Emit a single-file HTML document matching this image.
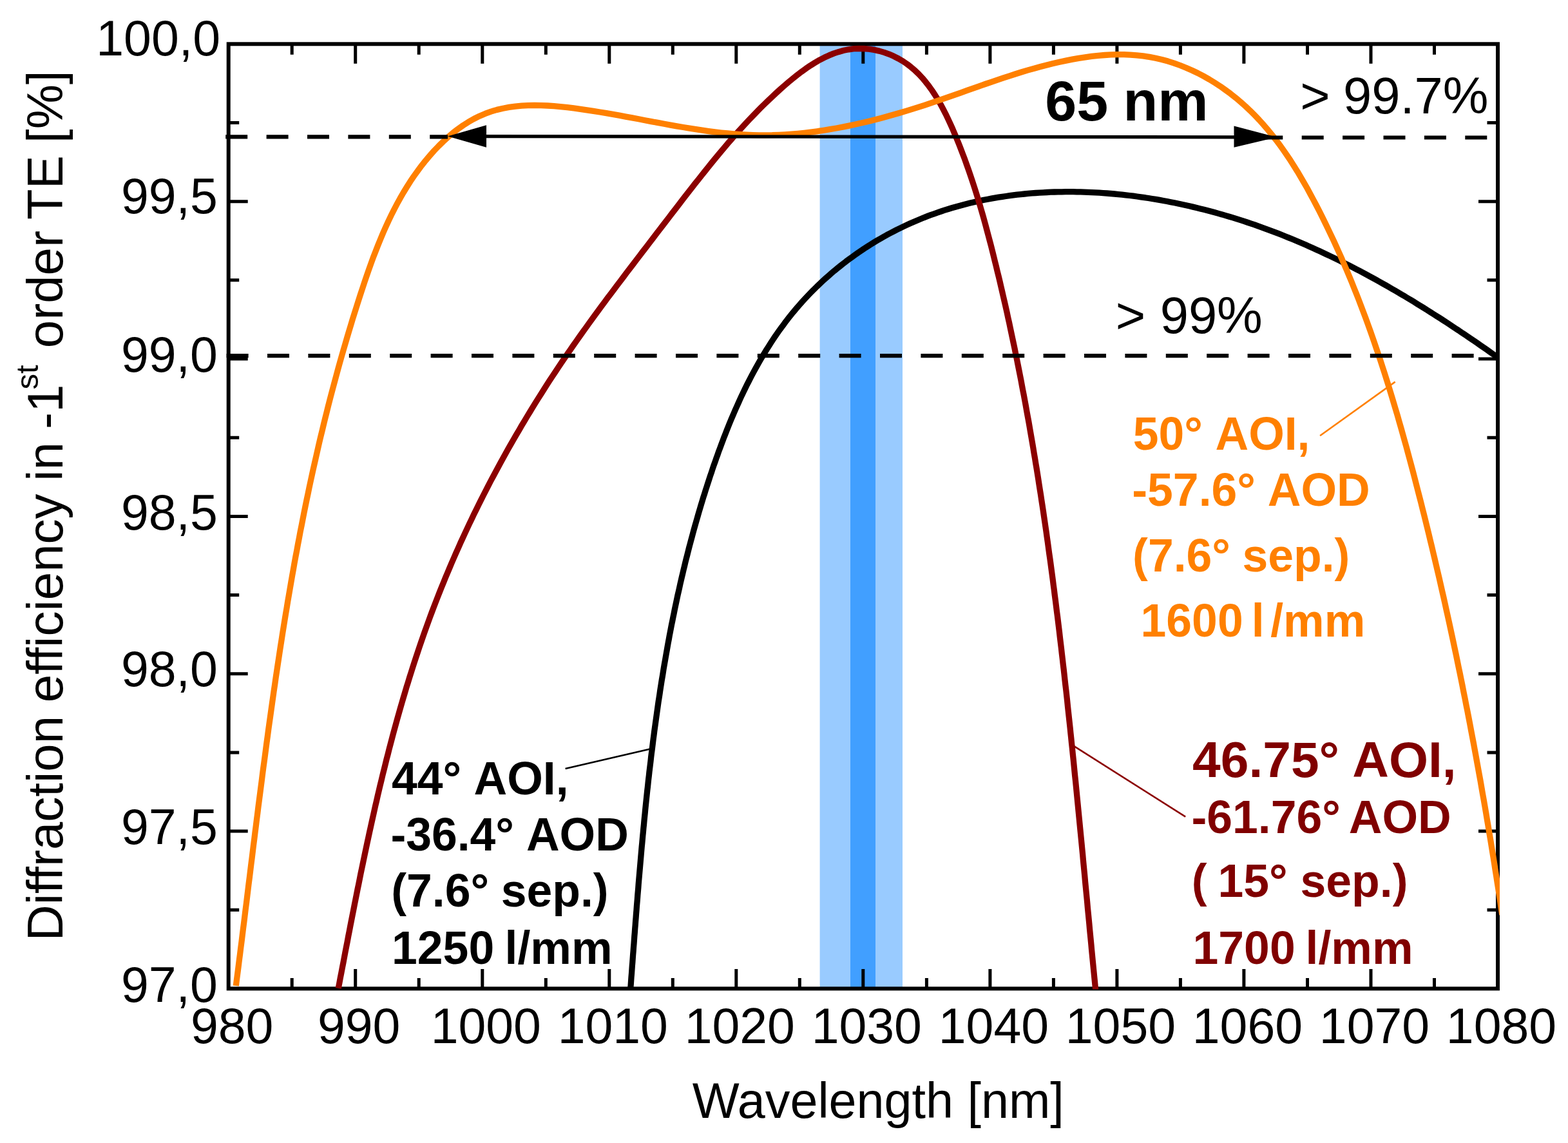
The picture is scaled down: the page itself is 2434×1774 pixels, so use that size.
<!DOCTYPE html>
<html><head><meta charset="utf-8"><title>Diffraction efficiency</title>
<style>html,body{margin:0;padding:0;background:#fff;}body{width:2434px;height:1774px;overflow:hidden;position:relative;}svg{display:block;position:absolute;left:0;top:0;}</style>
</head><body>
<svg xmlns="http://www.w3.org/2000/svg" width="2434" height="1774" viewBox="0 0 2434 1774">
<defs><clipPath id="pc"><rect x="351.5" y="65" width="1976.5" height="1470.5"/></clipPath></defs>
<rect x="1272.6" y="68.3" width="128.4" height="1466.1" fill="#99CBFF"/>
<rect x="1320" y="68.3" width="39" height="1466.1" fill="#419FFF"/>
<rect x="354.7" y="68.3" width="1970.3" height="1466.1" fill="none" stroke="#000" stroke-width="6"/>
<path d="M453.2,1534.4v-16.5M453.2,68.3v16.5M551.7,1534.4v-30.5M551.7,68.3v30.5M650.2,1534.4v-16.5M650.2,68.3v16.5M748.8,1534.4v-30.5M748.8,68.3v30.5M847.3,1534.4v-16.5M847.3,68.3v16.5M945.8,1534.4v-30.5M945.8,68.3v30.5M1044.3,1534.4v-16.5M1044.3,68.3v16.5M1142.8,1534.4v-30.5M1142.8,68.3v30.5M1241.3,1534.4v-16.5M1241.3,68.3v16.5M1339.8,1534.4v-30.5M1339.8,68.3v30.5M1438.4,1534.4v-16.5M1438.4,68.3v16.5M1536.9,1534.4v-30.5M1536.9,68.3v30.5M1635.4,1534.4v-16.5M1635.4,68.3v16.5M1733.9,1534.4v-30.5M1733.9,68.3v30.5M1832.4,1534.4v-16.5M1832.4,68.3v16.5M1930.9,1534.4v-30.5M1930.9,68.3v30.5M2029.5,1534.4v-16.5M2029.5,68.3v16.5M2128.0,1534.4v-30.5M2128.0,68.3v30.5M2226.5,1534.4v-16.5M2226.5,68.3v16.5M354.7,1412.2h16.5M2325.0,1412.2h-16.5M354.7,1290.1h30M2325.0,1290.1h-30M354.7,1167.9h16.5M2325.0,1167.9h-16.5M354.7,1045.7h30M2325.0,1045.7h-30M354.7,923.5h16.5M2325.0,923.5h-16.5M354.7,801.4h30M2325.0,801.4h-30M354.7,679.2h16.5M2325.0,679.2h-16.5M354.7,557.0h30M2325.0,557.0h-30M354.7,434.8h16.5M2325.0,434.8h-16.5M354.7,312.7h30M2325.0,312.7h-30M354.7,190.5h16.5M2325.0,190.5h-16.5" stroke="#000" stroke-width="5" fill="none"/>
<g clip-path="url(#pc)" fill="none" stroke-width="9.3" stroke-linejoin="round">
<path d="M978.3,1539.9 L978.7,1534.1 L979.2,1528.3 L979.6,1522.6 L980.0,1516.8 L980.5,1511.0 L980.9,1505.2 L981.3,1499.4 L981.8,1493.6 L982.2,1487.8 L982.6,1482.1 L983.1,1476.3 L983.5,1470.5 L984.0,1464.7 L984.4,1458.9 L984.8,1453.1 L985.3,1447.3 L985.7,1441.5 L986.2,1435.7 L986.6,1429.9 L987.1,1424.2 L987.5,1418.4 L988.0,1412.6 L988.4,1406.8 L988.9,1401.0 L989.4,1395.2 L989.8,1389.4 L990.3,1383.6 L990.8,1377.8 L991.2,1372.0 L991.7,1366.2 L992.2,1360.4 L992.7,1354.6 L993.2,1348.9 L993.7,1343.1 L994.2,1337.3 L994.7,1331.5 L995.2,1325.7 L995.7,1319.9 L996.2,1314.1 L996.8,1308.3 L997.3,1302.5 L997.8,1296.8 L998.4,1291.0 L998.9,1285.2 L999.5,1279.4 L1000.0,1273.6 L1000.6,1267.8 L1001.2,1262.1 L1001.7,1256.3 L1002.3,1250.5 L1002.9,1244.7 L1003.5,1238.9 L1004.1,1233.2 L1004.7,1227.4 L1005.4,1221.6 L1006.0,1215.8 L1006.6,1210.1 L1007.3,1204.3 L1007.9,1198.5 L1008.6,1192.8 L1009.3,1187.0 L1010.0,1181.2 L1010.6,1175.5 L1011.3,1169.7 L1012.1,1163.9 L1012.8,1158.2 L1013.5,1152.4 L1014.2,1146.7 L1015.0,1140.9 L1015.7,1135.1 L1016.5,1129.4 L1017.3,1123.6 L1018.1,1117.9 L1018.9,1112.2 L1019.7,1106.4 L1020.5,1100.7 L1021.3,1094.9 L1022.1,1089.2 L1023.0,1083.5 L1023.9,1077.7 L1024.7,1072.0 L1025.6,1066.3 L1026.5,1060.5 L1027.4,1054.8 L1028.4,1049.1 L1029.3,1043.4 L1030.2,1037.6 L1031.2,1031.9 L1032.2,1026.2 L1033.2,1020.5 L1034.2,1014.8 L1035.2,1009.1 L1036.2,1003.4 L1037.2,997.7 L1038.3,992.0 L1039.3,986.3 L1040.4,980.6 L1041.5,974.9 L1042.6,969.2 L1043.8,963.5 L1044.9,957.9 L1046.1,952.2 L1047.2,946.5 L1048.4,940.8 L1049.6,935.2 L1050.8,929.5 L1052.0,923.8 L1053.3,918.2 L1054.6,912.5 L1055.8,906.9 L1057.1,901.2 L1058.4,895.6 L1059.8,889.9 L1061.1,884.3 L1062.5,878.6 L1063.8,873.0 L1065.2,867.4 L1066.7,861.7 L1068.1,856.1 L1069.5,850.5 L1071.0,844.9 L1072.5,839.3 L1074.0,833.7 L1075.5,828.1 L1077.0,822.5 L1078.6,816.9 L1080.2,811.3 L1081.8,805.7 L1083.4,800.1 L1085.0,794.5 L1086.7,788.9 L1088.3,783.4 L1090.0,777.8 L1091.7,772.2 L1093.5,766.7 L1095.2,761.1 L1097.0,755.6 L1098.8,750.0 L1100.6,744.5 L1102.4,738.9 L1104.3,733.4 L1106.1,727.9 L1108.0,722.3 L1110.0,716.8 L1111.9,711.3 L1113.9,705.8 L1115.8,700.3 L1117.9,694.8 L1119.9,689.3 L1122.0,683.8 L1124.0,678.4 L1126.2,672.9 L1128.3,667.5 L1130.5,662.1 L1132.7,656.6 L1134.9,651.2 L1137.2,645.9 L1139.5,640.5 L1141.8,635.1 L1144.2,629.8 L1146.6,624.5 L1149.0,619.2 L1151.4,613.9 L1153.9,608.7 L1156.5,603.4 L1159.0,598.2 L1161.7,593.0 L1164.3,587.9 L1167.0,582.7 L1169.7,577.6 L1172.5,572.5 L1175.3,567.4 L1178.1,562.4 L1181.0,557.4 L1184.0,552.4 L1187.0,547.5 L1190.0,542.5 L1193.1,537.7 L1196.2,532.8 L1199.3,528.0 L1202.5,523.2 L1205.8,518.4 L1209.1,513.7 L1212.5,509.0 L1215.9,504.4 L1219.3,499.8 L1222.8,495.2 L1226.4,490.7 L1230.0,486.2 L1233.7,481.7 L1237.4,477.3 L1241.2,473.0 L1245.0,468.6 L1248.9,464.4 L1252.9,460.1 L1256.9,455.9 L1260.9,451.8 L1265.0,447.7 L1269.2,443.6 L1273.4,439.6 L1277.6,435.7 L1281.9,431.8 L1286.3,427.9 L1290.7,424.1 L1295.1,420.3 L1299.6,416.6 L1304.1,413.0 L1308.7,409.4 L1313.3,405.8 L1318.0,402.3 L1322.7,398.9 L1327.4,395.5 L1332.2,392.1 L1337.0,388.9 L1341.8,385.6 L1346.7,382.5 L1351.6,379.4 L1356.6,376.3 L1361.5,373.3 L1366.5,370.4 L1371.6,367.5 L1376.6,364.7 L1381.7,362.0 L1386.8,359.3 L1392.0,356.6 L1397.2,354.1 L1402.4,351.6 L1407.6,349.1 L1412.8,346.7 L1418.1,344.4 L1423.4,342.2 L1428.7,340.0 L1434.0,337.8 L1439.4,335.7 L1444.7,333.7 L1450.1,331.8 L1455.5,329.9 L1461.0,328.0 L1466.4,326.2 L1471.9,324.5 L1477.4,322.8 L1482.9,321.2 L1488.4,319.7 L1493.9,318.2 L1499.5,316.7 L1505.1,315.3 L1510.7,314.0 L1516.3,312.7 L1521.9,311.5 L1527.5,310.3 L1533.2,309.2 L1538.8,308.2 L1544.5,307.2 L1550.2,306.2 L1555.9,305.3 L1561.6,304.5 L1567.3,303.7 L1573.0,302.9 L1578.8,302.2 L1584.5,301.6 L1590.3,301.0 L1596.0,300.4 L1601.8,299.9 L1607.6,299.5 L1613.4,299.1 L1619.2,298.8 L1625.0,298.5 L1630.8,298.2 L1636.6,298.0 L1642.4,297.9 L1648.3,297.8 L1654.1,297.7 L1659.9,297.7 L1665.8,297.7 L1671.6,297.8 L1677.5,297.9 L1683.3,298.1 L1689.2,298.3 L1695.0,298.6 L1700.8,298.9 L1706.7,299.2 L1712.5,299.6 L1718.4,300.0 L1724.2,300.5 L1730.1,301.0 L1735.9,301.6 L1741.8,302.2 L1747.6,302.8 L1753.5,303.5 L1759.3,304.2 L1765.1,305.0 L1770.9,305.8 L1776.8,306.7 L1782.6,307.5 L1788.4,308.5 L1794.2,309.4 L1800.0,310.4 L1805.8,311.5 L1811.6,312.5 L1817.3,313.7 L1823.1,314.8 L1828.8,316.0 L1834.6,317.2 L1840.3,318.5 L1846.1,319.8 L1851.8,321.1 L1857.5,322.5 L1863.2,323.9 L1868.8,325.3 L1874.5,326.8 L1880.2,328.3 L1885.8,329.8 L1891.4,331.4 L1897.0,332.9 L1902.6,334.6 L1908.2,336.2 L1913.8,337.9 L1919.3,339.7 L1924.9,341.4 L1930.4,343.2 L1935.9,345.0 L1941.4,346.9 L1946.9,348.7 L1952.3,350.7 L1957.8,352.6 L1963.2,354.6 L1968.7,356.6 L1974.1,358.6 L1979.5,360.6 L1984.9,362.7 L1990.2,364.8 L1995.6,367.0 L2000.9,369.1 L2006.3,371.3 L2011.6,373.5 L2016.9,375.8 L2022.2,378.0 L2027.5,380.3 L2032.8,382.7 L2038.0,385.0 L2043.3,387.4 L2048.5,389.8 L2053.7,392.2 L2058.9,394.7 L2064.1,397.1 L2069.3,399.6 L2074.5,402.1 L2079.7,404.7 L2084.8,407.3 L2090.0,409.9 L2095.1,412.5 L2100.3,415.1 L2105.4,417.8 L2110.5,420.4 L2115.6,423.1 L2120.7,425.9 L2125.7,428.6 L2130.8,431.4 L2135.9,434.2 L2140.9,437.0 L2146.0,439.8 L2151.0,442.6 L2156.0,445.5 L2161.0,448.4 L2166.0,451.3 L2171.0,454.2 L2176.0,457.2 L2181.0,460.1 L2185.9,463.1 L2190.9,466.1 L2195.9,469.1 L2200.8,472.2 L2205.8,475.2 L2210.7,478.3 L2215.6,481.4 L2220.5,484.5 L2225.4,487.6 L2230.3,490.7 L2235.2,493.8 L2240.1,497.0 L2245.0,500.2 L2249.9,503.4 L2254.7,506.6 L2259.6,509.8 L2264.5,513.0 L2269.3,516.3 L2274.2,519.5 L2279.0,522.8 L2283.8,526.1 L2288.7,529.4 L2293.5,532.7 L2298.3,536.1 L2303.1,539.4 L2307.9,542.7 L2312.7,546.1 L2317.5,549.5 L2322.3,552.9 L2327.1,556.2 L2331.9,559.7" stroke="#000000"/>
<path d="M525.2,1533.8 L526.8,1525.8 L528.3,1517.7 L529.9,1509.7 L531.4,1501.6 L533.0,1493.6 L534.5,1485.5 L536.0,1477.5 L537.6,1469.4 L539.2,1461.3 L540.7,1453.2 L542.3,1445.2 L543.8,1437.1 L545.4,1429.0 L547.0,1420.9 L548.6,1412.8 L550.2,1404.7 L551.8,1396.7 L553.4,1388.6 L555.0,1380.5 L556.7,1372.4 L558.3,1364.3 L559.9,1356.2 L561.6,1348.1 L563.3,1340.0 L565.0,1331.9 L566.7,1323.8 L568.4,1315.8 L570.1,1307.7 L571.9,1299.6 L573.6,1291.5 L575.4,1283.4 L577.2,1275.3 L579.0,1267.3 L580.8,1259.2 L582.6,1251.1 L584.5,1243.1 L586.3,1235.0 L588.2,1227.0 L590.1,1218.9 L592.1,1210.9 L594.0,1202.8 L596.0,1194.8 L598.0,1186.8 L600.0,1178.7 L602.1,1170.7 L604.1,1162.7 L606.2,1154.7 L608.3,1146.7 L610.4,1138.7 L612.6,1130.8 L614.8,1122.8 L617.0,1114.8 L619.2,1106.9 L621.5,1098.9 L623.8,1091.0 L626.1,1083.1 L628.5,1075.1 L630.8,1067.2 L633.3,1059.3 L635.7,1051.4 L638.2,1043.6 L640.7,1035.7 L643.2,1027.8 L645.8,1020.0 L648.4,1012.2 L651.0,1004.4 L653.7,996.5 L656.4,988.8 L659.1,981.0 L661.9,973.2 L664.7,965.5 L667.5,957.7 L670.4,950.0 L673.3,942.3 L676.3,934.6 L679.3,926.9 L682.3,919.2 L685.4,911.6 L688.5,903.9 L691.6,896.3 L694.8,888.7 L698.0,881.1 L701.2,873.5 L704.5,866.0 L707.8,858.4 L711.2,850.9 L714.5,843.3 L718.0,835.8 L721.4,828.4 L724.9,820.9 L728.4,813.4 L732.0,806.0 L735.5,798.6 L739.2,791.2 L742.8,783.8 L746.5,776.4 L750.2,769.0 L754.0,761.7 L757.7,754.4 L761.5,747.0 L765.4,739.7 L769.3,732.5 L773.2,725.2 L777.1,718.0 L781.1,710.7 L785.1,703.5 L789.1,696.3 L793.2,689.2 L797.3,682.0 L801.4,674.9 L805.6,667.8 L809.7,660.7 L814.0,653.6 L818.2,646.5 L822.5,639.5 L826.8,632.4 L831.1,625.4 L835.5,618.4 L839.9,611.5 L844.3,604.5 L848.7,597.6 L853.2,590.6 L857.7,583.7 L862.3,576.9 L866.8,570.0 L871.4,563.2 L876.0,556.3 L880.7,549.5 L885.3,542.8 L890.0,536.0 L894.7,529.3 L899.5,522.5 L904.3,515.8 L909.1,509.1 L913.9,502.4 L918.7,495.8 L923.6,489.1 L928.4,482.5 L933.3,475.8 L938.2,469.2 L943.1,462.6 L948.1,456.0 L953.0,449.4 L958.0,442.8 L963.0,436.2 L968.0,429.6 L972.9,423.0 L978.0,416.4 L983.0,409.9 L988.0,403.3 L993.0,396.7 L998.0,390.1 L1003.1,383.6 L1008.1,377.0 L1013.2,370.4 L1018.2,363.8 L1023.2,357.2 L1028.3,350.6 L1033.3,344.1 L1038.4,337.5 L1043.4,330.9 L1048.5,324.3 L1053.5,317.8 L1058.6,311.2 L1063.6,304.7 L1068.7,298.2 L1073.8,291.7 L1078.8,285.2 L1083.9,278.8 L1089.0,272.4 L1094.1,266.0 L1099.2,259.6 L1104.3,253.3 L1109.4,247.0 L1114.6,240.7 L1119.8,234.5 L1125.1,228.3 L1130.3,222.1 L1135.7,215.9 L1141.0,209.8 L1146.5,203.7 L1152.0,197.7 L1157.5,191.6 L1163.1,185.6 L1168.8,179.7 L1174.6,173.7 L1180.4,167.8 L1186.3,162.0 L1192.4,156.1 L1198.5,150.3 L1204.7,144.5 L1211.0,138.8 L1217.4,133.1 L1223.9,127.5 L1230.6,122.0 L1237.3,116.6 L1244.1,111.4 L1251.0,106.4 L1258.0,101.7 L1265.1,97.3 L1272.3,93.1 L1279.6,89.3 L1287.0,85.9 L1294.5,82.9 L1302.1,80.4 L1309.7,78.3 L1317.4,76.8 L1325.2,75.7 L1333.1,75.3 L1341.1,75.5 L1349.0,76.2 L1356.9,77.4 L1364.8,79.1 L1372.5,81.4 L1380.1,84.1 L1387.5,87.3 L1394.7,91.0 L1401.6,95.0 L1408.2,99.5 L1414.5,104.4 L1420.5,109.6 L1426.3,115.2 L1431.8,121.1 L1437.0,127.3 L1442.0,133.7 L1446.8,140.4 L1451.4,147.3 L1455.8,154.5 L1460.0,161.8 L1464.0,169.2 L1467.9,176.8 L1471.6,184.5 L1475.2,192.2 L1478.7,200.0 L1482.0,207.9 L1485.3,215.7 L1488.5,223.6 L1491.6,231.5 L1494.6,239.3 L1497.6,247.2 L1500.4,255.1 L1503.2,262.9 L1505.9,270.8 L1508.6,278.7 L1511.2,286.6 L1513.7,294.4 L1516.2,302.3 L1518.6,310.2 L1521.0,318.1 L1523.3,326.0 L1525.6,333.9 L1527.8,341.8 L1530.0,349.7 L1532.1,357.7 L1534.2,365.6 L1536.3,373.5 L1538.4,381.4 L1540.4,389.4 L1542.4,397.3 L1544.3,405.3 L1546.3,413.2 L1548.2,421.2 L1550.2,429.2 L1552.1,437.1 L1553.9,445.1 L1555.8,453.1 L1557.6,461.1 L1559.5,469.1 L1561.3,477.1 L1563.1,485.1 L1564.8,493.1 L1566.6,501.1 L1568.3,509.2 L1570.0,517.2 L1571.7,525.2 L1573.4,533.3 L1575.1,541.3 L1576.7,549.4 L1578.4,557.4 L1580.0,565.5 L1581.6,573.5 L1583.2,581.6 L1584.8,589.7 L1586.3,597.8 L1587.8,605.8 L1589.4,613.9 L1590.9,622.0 L1592.4,630.1 L1593.8,638.2 L1595.3,646.3 L1596.8,654.4 L1598.2,662.5 L1599.6,670.7 L1601.0,678.8 L1602.4,686.9 L1603.8,695.0 L1605.1,703.2 L1606.5,711.3 L1607.8,719.4 L1609.2,727.6 L1610.5,735.7 L1611.8,743.9 L1613.0,752.0 L1614.3,760.2 L1615.6,768.3 L1616.8,776.5 L1618.1,784.7 L1619.3,792.8 L1620.5,801.0 L1621.7,809.2 L1622.9,817.4 L1624.1,825.5 L1625.2,833.7 L1626.4,841.9 L1627.5,850.1 L1628.6,858.3 L1629.8,866.5 L1630.9,874.7 L1632.0,882.9 L1633.1,891.1 L1634.2,899.3 L1635.2,907.5 L1636.3,915.7 L1637.3,923.9 L1638.4,932.1 L1639.4,940.3 L1640.4,948.5 L1641.5,956.7 L1642.5,964.9 L1643.5,973.1 L1644.5,981.4 L1645.4,989.6 L1646.4,997.8 L1647.4,1006.0 L1648.3,1014.2 L1649.3,1022.5 L1650.2,1030.7 L1651.2,1038.9 L1652.1,1047.1 L1653.0,1055.4 L1653.9,1063.6 L1654.9,1071.8 L1655.8,1080.0 L1656.7,1088.3 L1657.5,1096.5 L1658.4,1104.7 L1659.3,1112.9 L1660.2,1121.2 L1661.1,1129.4 L1661.9,1137.6 L1662.8,1145.9 L1663.6,1154.1 L1664.5,1162.3 L1665.3,1170.5 L1666.2,1178.8 L1667.0,1187.0 L1667.8,1195.2 L1668.6,1203.5 L1669.5,1211.7 L1670.3,1219.9 L1671.1,1228.1 L1671.9,1236.4 L1672.7,1244.6 L1673.5,1252.8 L1674.3,1261.0 L1675.1,1269.3 L1675.9,1277.5 L1676.7,1285.7 L1677.5,1293.9 L1678.3,1302.1 L1679.1,1310.3 L1679.9,1318.6 L1680.7,1326.8 L1681.4,1335.0 L1682.2,1343.2 L1683.0,1351.4 L1683.8,1359.6 L1684.5,1367.8 L1685.3,1376.0 L1686.1,1384.2 L1686.9,1392.4 L1687.7,1400.6 L1688.4,1408.8 L1689.2,1417.0 L1690.0,1425.2 L1690.8,1433.4 L1691.5,1441.5 L1692.3,1449.7 L1693.1,1457.9 L1693.9,1466.1 L1694.6,1474.2 L1695.4,1482.4 L1696.2,1490.6 L1697.0,1498.7 L1697.8,1506.9 L1698.6,1515.1 L1699.4,1523.2 L1700.2,1531.4 L1701.0,1539.5" stroke="#8B0000"/>
<path d="M366.3,1530.0 L367.5,1520.2 L368.8,1510.3 L370.1,1500.4 L371.3,1490.5 L372.6,1480.6 L373.8,1470.7 L375.1,1460.8 L376.3,1450.9 L377.5,1441.0 L378.8,1431.1 L380.0,1421.2 L381.2,1411.3 L382.5,1401.3 L383.7,1391.4 L384.9,1381.5 L386.1,1371.5 L387.4,1361.6 L388.6,1351.6 L389.8,1341.7 L391.1,1331.7 L392.3,1321.8 L393.5,1311.8 L394.8,1301.9 L396.0,1291.9 L397.3,1281.9 L398.5,1272.0 L399.8,1262.0 L401.0,1252.0 L402.3,1242.1 L403.6,1232.1 L404.9,1222.1 L406.2,1212.2 L407.4,1202.2 L408.7,1192.2 L410.1,1182.2 L411.4,1172.3 L412.7,1162.3 L414.0,1152.3 L415.4,1142.4 L416.7,1132.4 L418.1,1122.4 L419.5,1112.5 L420.9,1102.5 L422.3,1092.5 L423.7,1082.6 L425.1,1072.6 L426.6,1062.7 L428.0,1052.7 L429.5,1042.8 L431.0,1032.8 L432.5,1022.9 L434.0,1012.9 L435.5,1003.0 L437.1,993.1 L438.6,983.1 L440.2,973.2 L441.8,963.3 L443.4,953.4 L445.1,943.5 L446.7,933.6 L448.4,923.7 L450.1,913.8 L451.8,903.9 L453.5,894.0 L455.3,884.1 L457.0,874.3 L458.8,864.4 L460.7,854.6 L462.5,844.7 L464.4,834.9 L466.2,825.0 L468.2,815.2 L470.1,805.4 L472.0,795.6 L474.0,785.8 L476.0,776.0 L478.1,766.2 L480.1,756.4 L482.2,746.6 L484.3,736.9 L486.5,727.1 L488.7,717.4 L490.9,707.7 L493.1,697.9 L495.3,688.2 L497.6,678.5 L500.0,668.8 L502.3,659.1 L504.7,649.4 L507.1,639.8 L509.5,630.1 L512.0,620.4 L514.5,610.8 L517.1,601.1 L519.7,591.5 L522.3,581.9 L524.9,572.2 L527.6,562.6 L530.3,552.9 L533.1,543.3 L535.9,533.7 L538.7,524.1 L541.6,514.4 L544.5,504.8 L547.4,495.2 L550.4,485.6 L553.5,475.9 L556.5,466.3 L559.6,456.7 L562.8,447.1 L566.0,437.4 L569.3,427.8 L572.6,418.3 L576.0,408.7 L579.5,399.2 L583.2,389.7 L586.9,380.3 L590.7,370.9 L594.6,361.6 L598.7,352.4 L602.9,343.2 L607.3,334.1 L611.8,325.1 L616.5,316.2 L621.3,307.4 L626.3,298.7 L631.5,290.2 L636.9,281.7 L642.5,273.4 L648.4,265.2 L654.4,257.1 L660.7,249.2 L667.2,241.5 L673.9,233.9 L680.9,226.6 L688.1,219.6 L695.5,212.8 L703.1,206.3 L710.9,200.3 L718.9,194.6 L727.2,189.3 L735.6,184.5 L744.3,180.2 L753.1,176.4 L762.2,173.1 L771.4,170.4 L780.8,168.2 L790.3,166.4 L800.0,165.1 L809.8,164.2 L819.7,163.7 L829.7,163.5 L839.8,163.6 L849.9,164.0 L860.0,164.7 L870.2,165.6 L880.5,166.7 L890.7,167.9 L900.8,169.3 L911.0,170.8 L921.1,172.3 L931.2,174.0 L941.3,175.7 L951.3,177.4 L961.3,179.2 L971.3,181.1 L981.3,182.9 L991.3,184.8 L1001.2,186.7 L1011.1,188.6 L1021.0,190.4 L1030.9,192.3 L1040.8,194.1 L1050.6,195.8 L1060.5,197.5 L1070.3,199.2 L1080.2,200.7 L1090.0,202.2 L1099.9,203.6 L1109.7,204.8 L1119.6,206.0 L1129.4,207.0 L1139.3,207.9 L1149.1,208.6 L1159.0,209.2 L1168.9,209.6 L1178.8,209.8 L1188.7,209.8 L1198.7,209.7 L1208.6,209.3 L1218.6,208.8 L1228.5,208.1 L1238.5,207.3 L1248.4,206.3 L1258.4,205.1 L1268.4,203.8 L1278.3,202.3 L1288.3,200.7 L1298.2,199.0 L1308.1,197.1 L1318.0,195.1 L1327.9,193.0 L1337.8,190.8 L1347.7,188.5 L1357.5,186.0 L1367.3,183.5 L1377.1,180.8 L1386.8,178.1 L1396.5,175.3 L1406.2,172.4 L1415.9,169.4 L1425.5,166.4 L1435.0,163.3 L1444.5,160.1 L1454.0,156.9 L1463.5,153.7 L1472.9,150.4 L1482.3,147.1 L1491.7,143.8 L1501.1,140.4 L1510.5,137.1 L1519.9,133.8 L1529.3,130.5 L1538.7,127.3 L1548.1,124.1 L1557.6,120.9 L1567.1,117.8 L1576.6,114.8 L1586.1,111.8 L1595.7,108.9 L1605.4,106.2 L1615.1,103.5 L1624.9,100.9 L1634.7,98.5 L1644.6,96.2 L1654.6,94.1 L1664.5,92.1 L1674.5,90.3 L1684.6,88.8 L1694.6,87.4 L1704.6,86.3 L1714.7,85.5 L1724.7,84.9 L1734.7,84.7 L1744.7,84.7 L1754.7,85.1 L1764.6,85.8 L1774.4,86.9 L1784.2,88.4 L1793.9,90.3 L1803.6,92.5 L1813.1,95.1 L1822.6,98.1 L1832.0,101.5 L1841.2,105.2 L1850.4,109.2 L1859.4,113.5 L1868.2,118.2 L1877.0,123.1 L1885.6,128.4 L1894.0,133.8 L1902.2,139.6 L1910.3,145.6 L1918.2,151.8 L1925.8,158.2 L1933.3,164.9 L1940.6,171.8 L1947.6,178.8 L1954.5,186.0 L1961.2,193.4 L1967.7,201.0 L1974.0,208.7 L1980.2,216.5 L1986.2,224.5 L1992.0,232.6 L1997.7,240.9 L2003.3,249.2 L2008.7,257.7 L2014.0,266.2 L2019.1,274.9 L2024.2,283.6 L2029.2,292.3 L2034.0,301.2 L2038.8,310.1 L2043.5,319.0 L2048.1,327.9 L2052.6,336.9 L2057.0,345.9 L2061.4,355.0 L2065.7,364.0 L2070.0,373.1 L2074.2,382.2 L2078.3,391.3 L2082.4,400.5 L2086.3,409.7 L2090.3,418.9 L2094.2,428.1 L2098.0,437.3 L2101.7,446.6 L2105.4,455.8 L2109.1,465.1 L2112.6,474.4 L2116.2,483.8 L2119.7,493.1 L2123.1,502.5 L2126.5,511.9 L2129.8,521.3 L2133.1,530.7 L2136.3,540.2 L2139.5,549.6 L2142.7,559.1 L2145.8,568.6 L2148.9,578.1 L2151.9,587.6 L2154.9,597.1 L2157.8,606.6 L2160.7,616.2 L2163.6,625.8 L2166.4,635.3 L2169.3,644.9 L2172.0,654.5 L2174.8,664.1 L2177.5,673.8 L2180.2,683.4 L2182.9,693.0 L2185.5,702.7 L2188.1,712.4 L2190.7,722.0 L2193.3,731.7 L2195.8,741.4 L2198.3,751.1 L2200.8,760.8 L2203.3,770.5 L2205.8,780.2 L2208.2,789.9 L2210.7,799.7 L2213.1,809.4 L2215.5,819.1 L2217.9,828.9 L2220.2,838.6 L2222.6,848.4 L2224.9,858.2 L2227.2,867.9 L2229.5,877.7 L2231.8,887.5 L2234.1,897.3 L2236.3,907.0 L2238.5,916.8 L2240.8,926.6 L2243.0,936.4 L2245.1,946.2 L2247.3,956.1 L2249.5,965.9 L2251.6,975.7 L2253.7,985.5 L2255.8,995.3 L2257.9,1005.2 L2260.0,1015.0 L2262.0,1024.8 L2264.0,1034.7 L2266.1,1044.5 L2268.1,1054.4 L2270.1,1064.2 L2272.0,1074.1 L2274.0,1083.9 L2275.9,1093.8 L2277.9,1103.6 L2279.8,1113.5 L2281.7,1123.4 L2283.5,1133.2 L2285.4,1143.1 L2287.3,1153.0 L2289.1,1162.8 L2290.9,1172.7 L2292.7,1182.6 L2294.5,1192.5 L2296.3,1202.3 L2298.1,1212.2 L2299.8,1222.1 L2301.5,1232.0 L2303.3,1241.8 L2305.0,1251.7 L2306.7,1261.6 L2308.3,1271.5 L2310.0,1281.4 L2311.6,1291.3 L2313.3,1301.1 L2314.9,1311.0 L2316.5,1320.9 L2318.1,1330.8 L2319.7,1340.7 L2321.2,1350.6 L2322.8,1360.4 L2324.3,1370.3 L2325.9,1380.2 L2327.4,1390.1 L2328.9,1399.9 L2330.3,1409.8 L2331.8,1419.7" stroke="#FF8000"/>
</g>
<line x1="351.6" y1="552.2" x2="2328" y2="552.2" stroke="#000" stroke-width="6.2" stroke-dasharray="34 29.4"/>
<line x1="350.2" y1="212.3" x2="695" y2="212.3" stroke="#000" stroke-width="6.2" stroke-dasharray="34 29.4"/>
<line x1="1957.3" y1="213.5" x2="2325.0" y2="213.5" stroke="#000" stroke-width="6.2" stroke-dasharray="34 29.4"/>
<line x1="750" y1="211.6" x2="1920" y2="212.8" stroke="#000" stroke-width="5.2"/>
<polygon points="695,211.6 755,194.3 755,228.8" fill="#000"/>
<polygon points="1982,213 1915.5,195.5 1915.5,228.8" fill="#000"/>
<line x1="877.6" y1="1193" x2="1009" y2="1162.5" stroke="#000" stroke-width="2.6"/>
<line x1="1667.3" y1="1158.1" x2="1840.2" y2="1267.7" stroke="#8B0000" stroke-width="2.6"/>
<line x1="2049.1" y1="676.2" x2="2165.7" y2="592.6" stroke="#FF8000" stroke-width="2.6"/>
<g font-family="'Liberation Sans', Arial, Helvetica, sans-serif" font-size="77" fill="#000">
<text x="360.2" y="1618.6" text-anchor="middle">980</text>
<text x="557.2" y="1618.6" text-anchor="middle">990</text>
<text x="754.3" y="1618.6" text-anchor="middle">1000</text>
<text x="951.3" y="1618.6" text-anchor="middle">1010</text>
<text x="1148.3" y="1618.6" text-anchor="middle">1020</text>
<text x="1345.3" y="1618.6" text-anchor="middle">1030</text>
<text x="1542.4" y="1618.6" text-anchor="middle">1040</text>
<text x="1739.4" y="1618.6" text-anchor="middle">1050</text>
<text x="1936.4" y="1618.6" text-anchor="middle">1060</text>
<text x="2133.5" y="1618.6" text-anchor="middle">1070</text>
<text x="2330.5" y="1618.6" text-anchor="middle">1080</text>
<text x="342" y="85.5" text-anchor="end">100,0</text>
<text x="337.8" y="331" text-anchor="end">99,5</text>
<text x="337.8" y="576.5" text-anchor="end">99,0</text>
<text x="337.8" y="821.5" text-anchor="end">98,5</text>
<text x="337.8" y="1064.5" text-anchor="end">98,0</text>
<text x="337.8" y="1309.5" text-anchor="end">97,5</text>
<text x="337.8" y="1555" text-anchor="end">97,0</text>
</g>
<text y="1735" font-family="'Liberation Sans', Arial, Helvetica, sans-serif" font-size="77.3" fill="#000"><tspan x="1074.7">Wavelength [nm]</tspan></text>
<g transform="translate(97.2,0) rotate(-90)" font-family="'Liberation Sans', Arial, Helvetica, sans-serif" fill="#000"><text x="-1460.6" y="0" font-size="78">Diffraction</text><text x="-1090.2" y="0" font-size="78">efficiency</text><text x="-746.8" y="0" font-size="78">in</text><text x="-666.1" y="0" font-size="78">-1</text><text x="-604.5" y="-38.2" font-size="49">st</text><text x="-540.2" y="0" font-size="78">order</text><text x="-340.9" y="0" font-size="78">TE</text><text x="-222.0" y="0" font-size="78">[%]</text></g>
<text y="187.3" font-family="'Liberation Sans', Arial, Helvetica, sans-serif" font-size="88" font-weight="bold" fill="#000"><tspan x="1622.3">65</tspan> <tspan x="1743.5">nm</tspan></text>
<text y="176.3" font-family="'Liberation Sans', Arial, Helvetica, sans-serif" font-size="79.5" fill="#000"><tspan x="2018.3">&gt;</tspan> <tspan x="2085.1">99.7%</tspan></text>
<text y="516.6" font-family="'Liberation Sans', Arial, Helvetica, sans-serif" font-size="79.5" fill="#000"><tspan x="1731.8">&gt;</tspan> <tspan x="1800.7">99%</tspan></text>
<text y="1233.3" font-family="'Liberation Sans', Arial, Helvetica, sans-serif" font-size="71.5" font-weight="bold" fill="#000"><tspan x="608.1">44°</tspan> <tspan x="735.6">AOI,</tspan></text>
<text y="1319.8" font-family="'Liberation Sans', Arial, Helvetica, sans-serif" font-size="71.5" font-weight="bold" fill="#000"><tspan x="606.4">-36.4°</tspan> <tspan x="816.9">AOD</tspan></text>
<text y="1406.6" font-family="'Liberation Sans', Arial, Helvetica, sans-serif" font-size="71.5" font-weight="bold" fill="#000"><tspan x="607.3">(7.6°</tspan> <tspan x="777.7">sep.)</tspan></text>
<text y="1496.3" font-family="'Liberation Sans', Arial, Helvetica, sans-serif" font-size="71.5" font-weight="bold" fill="#000"><tspan x="608.1">1250</tspan> <tspan x="783.6">l/mm</tspan></text>
<text y="698.4" font-family="'Liberation Sans', Arial, Helvetica, sans-serif" font-size="71.5" font-weight="bold" fill="#FF8000"><tspan x="1758.7">50°</tspan> <tspan x="1886.5">AOI,</tspan></text>
<text y="785.4" font-family="'Liberation Sans', Arial, Helvetica, sans-serif" font-size="71.5" font-weight="bold" fill="#FF8000"><tspan x="1757.3">-57.6°</tspan> <tspan x="1967.8">AOD</tspan></text>
<text y="886.6" font-family="'Liberation Sans', Arial, Helvetica, sans-serif" font-size="71.5" font-weight="bold" fill="#FF8000"><tspan x="1758.1">(7.6°</tspan> <tspan x="1928.5">sep.)</tspan></text>
<text y="988.1" font-family="'Liberation Sans', Arial, Helvetica, sans-serif" font-size="71.5" font-weight="bold" fill="#FF8000"><tspan x="1770.6">1600</tspan> <tspan x="1942.8">l</tspan> <tspan x="1972.2">/mm</tspan></text>
<text y="1206.3" font-family="'Liberation Sans', Arial, Helvetica, sans-serif" font-size="78.5" font-weight="bold" fill="#800000"><tspan x="1851.1">46.75°</tspan> <tspan x="2099.3">AOI,</tspan></text>
<text y="1293.3" font-family="'Liberation Sans', Arial, Helvetica, sans-serif" font-size="71.5" font-weight="bold" fill="#800000"><tspan x="1849.5">-61.76°</tspan> <tspan x="2093.8">AOD</tspan></text>
<text y="1392" font-family="'Liberation Sans', Arial, Helvetica, sans-serif" font-size="71.5" font-weight="bold" fill="#800000"><tspan x="1849.7">(</tspan> <tspan x="1890.5">15°</tspan> <tspan x="2018.6">sep.)</tspan></text>
<text y="1496.1" font-family="'Liberation Sans', Arial, Helvetica, sans-serif" font-size="71.5" font-weight="bold" fill="#800000"><tspan x="1851.6">1700</tspan> <tspan x="2026.6">l/mm</tspan></text>
</svg>
</body></html>
